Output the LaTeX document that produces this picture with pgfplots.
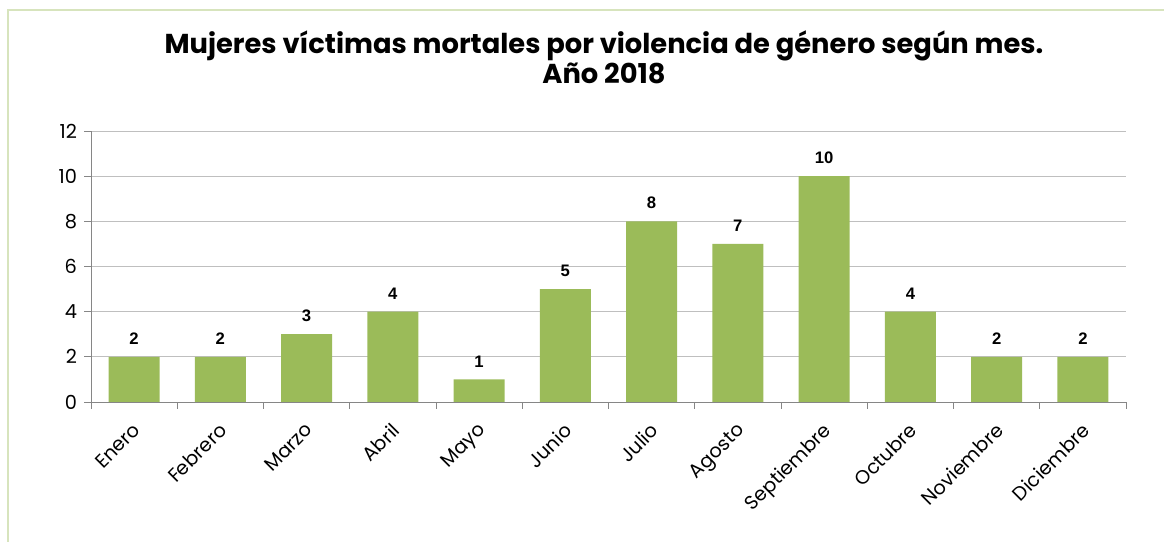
\documentclass[border=0pt]{standalone}
\usepackage{pgfplots}
\pgfplotsset{compat=1.18}
\usepackage{fontspec}
\setmainfont{Poppins}
\newfontfamily\lab{Liberation Sans}
\definecolor{barc}{HTML}{9BBB59}
\definecolor{framec}{HTML}{D7E4BD}
\definecolor{gridc}{HTML}{BFBFBF}
\definecolor{axc}{HTML}{868686}
\begin{document}
\begin{tikzpicture}
\path[use as bounding box] (0,0) rectangle (873pt,406.5pt);
\draw[framec, line width=1.5pt] (6pt,0) -- (6pt,399pt) -- (873pt,399pt);
\node[align=center, font=\fontsize{20.5}{22.5}\selectfont\bfseries] at (453pt,363.5pt)
  {Mujeres víctimas mortales por violencia de género según mes.\\Año 2018};
\begin{axis}[
  at={(68.25pt,105pt)}, anchor=south west,
  scale only axis, width=776.25pt, height=203.25pt,
  xmin=-0.5, xmax=11.5, ymin=0, ymax=12,
  ybar, bar width=38.25pt,
  axis x line*=bottom, axis y line*=left,
  axis line style={-, draw=axc, line width=0.6pt},
  ytick={0,2,...,12},
  ymajorgrids, grid style={gridc, line width=0.6pt},
  xtick={0,...,11},
  xticklabels={Enero,Febrero,Marzo,Abril,Mayo,Junio,Julio,Agosto,Septiembre,Octubre,Noviembre,Diciembre},
  minor xtick={-0.5,0.5,...,11.5},
  major x tick style={draw=none},
  minor x tick style={draw=axc, line width=0.6pt},
  y tick style={draw=axc, line width=0.6pt},
  tick align=outside, major tick length=5pt, minor tick length=5pt,
  x tick label style={rotate=45, anchor=north east, font=\fontsize{14.5}{15}\selectfont, inner sep=1pt, xshift=-7pt, yshift=-4.5pt},
  y tick label style={font=\fontsize{14.5}{15}\selectfont, xshift=-2pt},
  /pgf/number format/assume math mode=true,
  nodes near coords,
  every node near coord/.append style={font=\lab\fontsize{12.5}{13}\selectfont\bfseries, anchor=south, inner sep=0pt, yshift=9pt, black},
]
\addplot[fill=barc, draw=none] coordinates {
(0,2) (1,2) (2,3) (3,4) (4,1) (5,5) (6,8) (7,7) (8,10) (9,4) (10,2) (11,2)};
\end{axis}
\end{tikzpicture}
\end{document}
